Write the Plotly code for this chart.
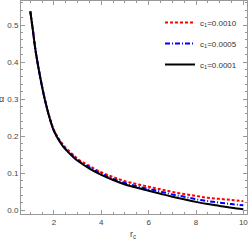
import plotly.graph_objects as go

r_c = [1.0, 1.1, 1.2, 1.3, 1.4, 1.5, 1.6, 1.8, 2.0, 2.25, 2.5, 2.8, 3.0, 3.5, 4.0, 4.5,
       5.0, 5.5, 6.0, 6.5, 7.0, 7.5, 8.0, 8.5, 9.0, 9.5, 10.0]
alpha_c1_0001 = [0.537, 0.49, 0.44, 0.40, 0.365, 0.332, 0.302, 0.252, 0.213, 0.184, 0.163,
                 0.144, 0.133, 0.112, 0.095, 0.081, 0.069, 0.060, 0.052, 0.044, 0.036,
                 0.029, 0.022, 0.016, 0.011, 0.006, 0.002]
alpha_c1_0005 = [0.537, 0.49, 0.44, 0.40, 0.365, 0.332, 0.302, 0.252, 0.214, 0.185, 0.164,
                 0.146, 0.135, 0.115, 0.098, 0.084, 0.073, 0.064, 0.057, 0.050, 0.042,
                 0.036, 0.029, 0.024, 0.020, 0.016, 0.013]
alpha_c1_0010 = [0.537, 0.49, 0.44, 0.40, 0.365, 0.333, 0.303, 0.254, 0.216, 0.188, 0.168,
                 0.150, 0.138, 0.119, 0.102, 0.089, 0.078, 0.070, 0.063, 0.056, 0.049,
                 0.043, 0.038, 0.033, 0.030, 0.027, 0.024]
labels = ["c<sub>1</sub>=0.0010", "c<sub>1</sub>=0.0005", "c<sub>1</sub>=0.0001"]

FONT = "Liberation Sans Narrow, Liberation Sans, Arial"

fig = go.Figure()
fig.add_trace(go.Scatter(x=r_c, y=alpha_c1_0010, mode="lines", name=labels[0], legendgroup="a",
                         line=dict(color="#ff0000", width=2, dash="3px,2px", shape="spline")))
fig.add_trace(go.Scatter(x=r_c, y=alpha_c1_0005, mode="lines", name=labels[1], legendgroup="b",
                         line=dict(color="#0000ff", width=2, dash="5px,2px,1px,2px", shape="spline")))
fig.add_trace(go.Scatter(x=r_c, y=alpha_c1_0001, mode="lines", name=labels[2], legendgroup="c",
                         line=dict(color="#000000", width=2, shape="spline")))

axis_common = dict(showline=True, linecolor="#999999", linewidth=1, mirror="allticks",
                   ticks="inside", ticklen=4, tickcolor="#999999", showgrid=False, zeroline=False,
                   automargin=False,
                   tickfont=dict(family=FONT, size=8, color="#444444"))

fig.update_xaxes(range=[0.606, 10.155], tickvals=[2, 4, 6, 8, 10],
                 minor=dict(dtick=0.5, tick0=0, ticks="inside", ticklen=2, tickcolor="#999999"),
                 **axis_common)
fig.update_yaxes(range=[-0.0108, 0.565], tickvals=[0.0, 0.1, 0.2, 0.3, 0.4, 0.5], tickformat=".1f",
                 minor=dict(dtick=0.02, tick0=0, ticks="inside", ticklen=2, tickcolor="#999999"),
                 **axis_common)

fig.add_annotation(text="α", xref="paper", yref="paper", x=-21 / 226, xanchor="left", xshift=-2,
                   y=(214 - 99) / 213, showarrow=False, borderpad=0,
                   font=dict(family=FONT, size=9, color="#444444"))
fig.add_annotation(text="r<sub>c</sub>", xref="paper", yref="paper", x=(133 - 21) / 226, y=(214 - 242) / 213,
                   showarrow=False, font=dict(family=FONT, size=9, color="#444444"))

fig.update_layout(
    width=249, height=249, margin=dict(l=21, r=2, t=1, b=35),
    paper_bgcolor="white", plot_bgcolor="white",
    showlegend=True,
    legend=dict(x=(160 - 21) / 226, y=(214 - 8) / 213, xanchor="left", yanchor="top",
                bgcolor="rgba(0,0,0,0)", traceorder="grouped", tracegroupgap=2,
                font=dict(family=FONT, size=8, color="#333333")),
)

fig.write_html("out.html", config={"displayModeBar": False},
               post_script="document.body.style.margin='0';")
